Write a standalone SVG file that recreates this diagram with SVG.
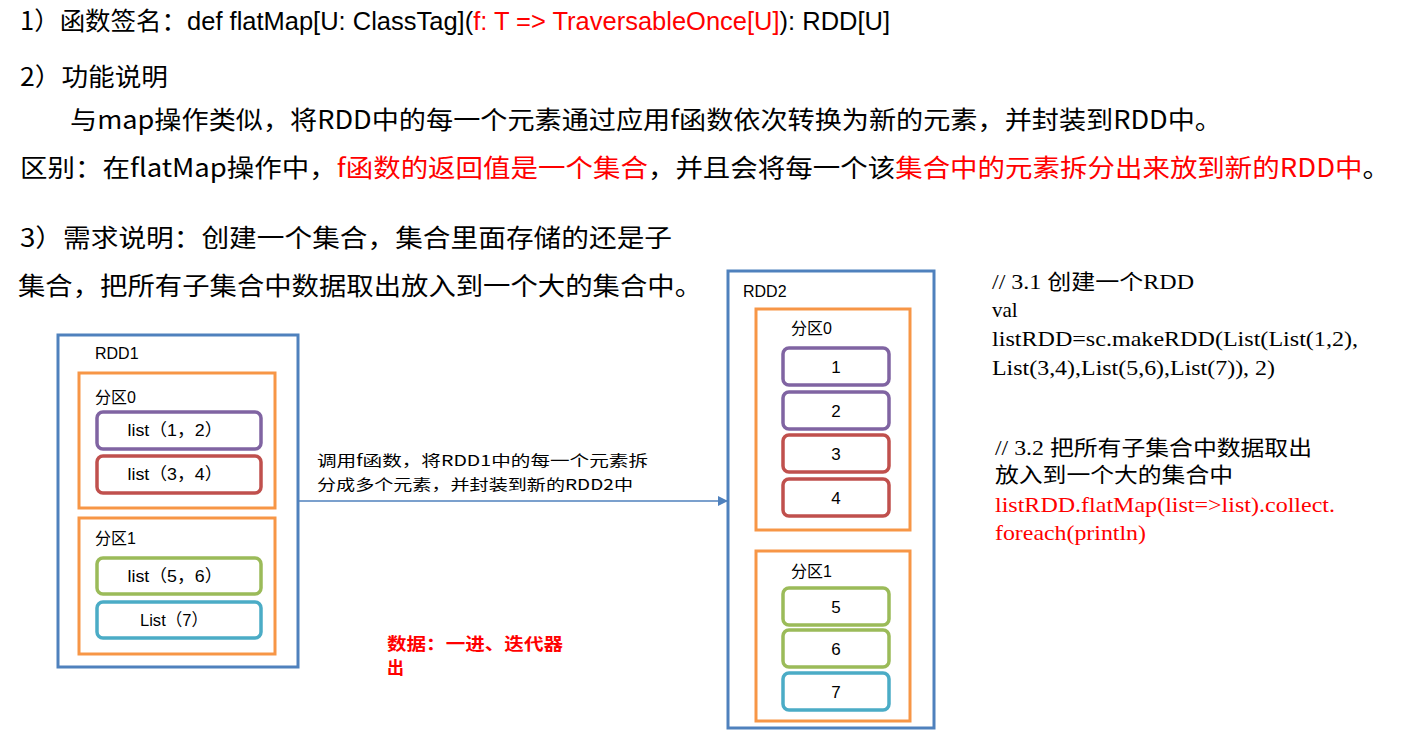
<svg xmlns="http://www.w3.org/2000/svg" width="1402" height="731" viewBox="0 0 1402 731">
<defs>
<style>
.t{font-family:"Liberation Sans","Noto Sans CJK SC",sans-serif;fill:#000}
.cj{font-family:"Noto Sans CJK SC","Liberation Sans",sans-serif;fill:#000}
.code{font-family:"Liberation Serif","Noto Sans CJK SC",serif;font-size:21px;fill:#000}
.red{fill:#FF0000}
.rdd{fill:#fff;stroke:#4F81BD;stroke-width:3}
.part{fill:#fff;stroke:#F79646;stroke-width:3}
.item{fill:#fff;stroke-width:3.5}
.pu{stroke:#8064A2}.rd{stroke:#C0504D}.gr{stroke:#9BBB59}.cy{stroke:#4BACC6}
.lbl{font-family:"Liberation Sans","Noto Sans CJK SC",sans-serif;font-size:16px;fill:#000}
.il{font-family:"Liberation Sans","Noto Sans CJK SC",sans-serif;font-size:17px;fill:#000;text-anchor:middle}
.num{font-family:"Liberation Sans",sans-serif;font-size:17px;fill:#000;text-anchor:middle}
.conn{stroke:#4F81BD;stroke-width:1.5;fill:none}
</style>
<marker id="ah" markerWidth="10" markerHeight="10" refX="10" refY="5" orient="auto" markerUnits="userSpaceOnUse">
<path d="M0,0 L10,5 L0,10 Z" fill="#4F81BD"/>
</marker>
</defs>
<rect width="1402" height="731" fill="#fff"/>

<g id="header">
<text class="cj" x="20" y="30" font-size="25" textLength="870" lengthAdjust="spacingAndGlyphs">1）函数签名：<tspan class="t">def flatMap[U: ClassTag](</tspan><tspan class="t red">f: T =&gt; TraversableOnce[U]</tspan><tspan class="t">): RDD[U]</tspan></text>
<text class="cj" x="20" y="86" font-size="25" textLength="148" lengthAdjust="spacingAndGlyphs">2）功能说明</text>
<text class="cj" x="70" y="129" font-size="25" textLength="1152" lengthAdjust="spacingAndGlyphs">与map操作类似，将RDD中的每一个元素通过应用f函数依次转换为新的元素，并封装到RDD中。</text>
<text class="cj" x="20" y="177" font-size="25" textLength="1370" lengthAdjust="spacingAndGlyphs">区别：在flatMap操作中，<tspan class="red">f函数的返回值是一个集合</tspan>，并且会将每一个该<tspan class="red">集合中的元素拆分出来放到新的RDD中</tspan>。</text>
<text class="cj" x="20" y="247" font-size="25" textLength="652" lengthAdjust="spacingAndGlyphs">3）需求说明：创建一个集合，集合里面存储的还是子</text>
<text class="cj" x="18" y="295" font-size="25" textLength="684" lengthAdjust="spacingAndGlyphs">集合，把所有子集合中数据取出放入到一个大的集合中。</text>
</g>

<g id="rdd1">
<rect class="rdd" x="58" y="335" width="240" height="332"/>
<text class="lbl" x="95" y="359">RDD1</text>
</g>
<g id="rdd1-p0">
<rect class="part" x="79" y="373" width="196" height="135"/>
<text class="lbl" x="95" y="403">分区0</text>
</g>
<g id="list12">
<rect class="item pu" x="97" y="412" width="164" height="37" rx="6"/>
<text class="il" x="175" y="436" textLength="95" lengthAdjust="spacingAndGlyphs">list（1，2）</text>
</g>
<g id="list34">
<rect class="item rd" x="97" y="456" width="164" height="37" rx="6"/>
<text class="il" x="175" y="480" textLength="95" lengthAdjust="spacingAndGlyphs">list（3，4）</text>
</g>
<g id="rdd1-p1">
<rect class="part" x="79" y="518" width="196" height="136"/>
<text class="lbl" x="95" y="544">分区1</text>
</g>
<g id="list56">
<rect class="item gr" x="97" y="558" width="164" height="36" rx="6"/>
<text class="il" x="175" y="582" textLength="95" lengthAdjust="spacingAndGlyphs">list（5，6）</text>
</g>
<g id="list7">
<rect class="item cy" x="97" y="602" width="164" height="36" rx="6"/>
<text class="il" x="174" y="626" textLength="68" lengthAdjust="spacingAndGlyphs">List（7）</text>
</g>

<g id="rdd2">
<rect class="rdd" x="728" y="271" width="206" height="457"/>
<text class="lbl" x="743" y="297">RDD2</text>
</g>
<g id="rdd2-p0">
<rect class="part" x="756" y="309" width="154" height="221"/>
<text class="lbl" x="791" y="334">分区0</text>
</g>
<g id="e1"><rect class="item pu" x="783" y="348" width="106" height="37" rx="6"/><text class="num" x="836" y="373">1</text></g>
<g id="e2"><rect class="item pu" x="783" y="392" width="106" height="37" rx="6"/><text class="num" x="836" y="417">2</text></g>
<g id="e3"><rect class="item rd" x="783" y="435" width="106" height="37" rx="6"/><text class="num" x="836" y="460">3</text></g>
<g id="e4"><rect class="item rd" x="783" y="479" width="106" height="37" rx="6"/><text class="num" x="836" y="504">4</text></g>
<g id="rdd2-p1">
<rect class="part" x="756" y="551" width="154" height="170"/>
<text class="lbl" x="791" y="577">分区1</text>
</g>
<g id="e5"><rect class="item gr" x="783" y="588" width="106" height="37" rx="6"/><text class="num" x="836" y="613">5</text></g>
<g id="e6"><rect class="item gr" x="783" y="630" width="106" height="37" rx="6"/><text class="num" x="836" y="655">6</text></g>
<g id="e7"><rect class="item cy" x="783" y="673" width="106" height="37" rx="6"/><text class="num" x="836" y="698">7</text></g>

<g id="connectors">
<line class="conn" x1="298" y1="501" x2="728" y2="501" marker-end="url(#ah)"/>
<text class="cj" x="317" y="466" font-size="15" textLength="331" lengthAdjust="spacingAndGlyphs">调用f函数，将RDD1中的每一个元素拆</text>
<text class="cj" x="317" y="490" font-size="15" textLength="316" lengthAdjust="spacingAndGlyphs">分成多个元素，并封装到新的RDD2中</text>
</g>

<g id="note">
<text class="cj red" x="387" y="650" font-size="17" font-weight="bold" textLength="176" lengthAdjust="spacingAndGlyphs">数据：一进、迭代器</text>
<text class="cj red" x="387" y="674" font-size="17" font-weight="bold">出</text>
</g>

<g id="code">
<text class="code" x="992" y="289" textLength="202" lengthAdjust="spacingAndGlyphs">// 3.1 创建一个RDD</text>
<text class="code" x="992" y="317">val</text>
<text class="code" x="992" y="346" textLength="366" lengthAdjust="spacingAndGlyphs">listRDD=sc.makeRDD(List(List(1,2),</text>
<text class="code" x="992" y="375" textLength="283" lengthAdjust="spacingAndGlyphs">List(3,4),List(5,6),List(7)), 2)</text>
<text class="code" x="995" y="455" textLength="317" lengthAdjust="spacingAndGlyphs">// 3.2 把所有子集合中数据取出</text>
<text class="code" x="995" y="482" textLength="238" lengthAdjust="spacingAndGlyphs">放入到一个大的集合中</text>
<text class="code red" x="995" y="512" textLength="340" lengthAdjust="spacingAndGlyphs">listRDD.flatMap(list=&gt;list).collect.</text>
<text class="code red" x="995" y="540" textLength="151" lengthAdjust="spacingAndGlyphs">foreach(println)</text>
</g>
</svg>
